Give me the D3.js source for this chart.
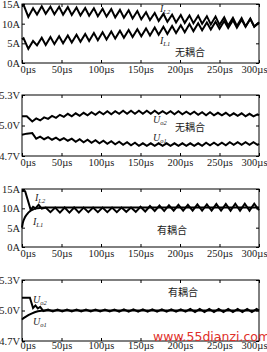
<!DOCTYPE html>
<html><head><meta charset="utf-8">
<script src="https://cdn.jsdelivr.net/npm/d3@7"></script>
<style>
html,body{margin:0;padding:0;background:#fff;}
svg{display:block;}
text{font-family:"Liberation Serif","Times New Roman",serif;}
</style></head>
<body>
<script>
// ---------- data ----------
const xTicks = [0, 50, 100, 150, 200, 250, 300];
const xTickLabels = ["0µs","50µs","100µs","150µs","200µs","250µs","300µs"];
const currentTicks = [0, 5, 10, 15];
const currentTickLabels = ["0A","5A","10A","15A"];
const voltageTicks = [4.7, 5.0, 5.3];
const voltageTickLabels = ["4.7V","5.0V","5.3V"];

// Panel 1 (无耦合, currents)
const tCurUncoupled = [0,2,8,14,19,25,30,36,41,47,52,58,63,69,74,80,85,91,96,102,107,113,118,124,129,135,140,146,151,157,162,168,173,179,184,190,195,201,206,212,217,223,228,234,239,245,250,256,261,267,272,278,283,289,294,300];
const iL2Uncoupled = [14.6,14.8,11.7,13.9,12.3,14.4,12.5,14.3,12.4,14.3,12.3,14.2,12.2,14.1,12.1,14.0,12.0,13.9,11.9,13.8,11.8,13.7,11.6,13.5,11.5,13.4,11.3,13.2,11.1,12.9,10.9,12.7,10.7,12.5,10.5,12.3,10.3,12.2,10.2,12.1,10.1,12.0,10.0,11.9,9.8,11.8,9.7,11.6,9.5,11.5,9.4,11.4,9.3,11.3,9.2,10.4];
const iL1Uncoupled = [6.0,6.3,3.6,5.6,4.5,6.4,4.6,6.6,4.8,6.8,5.0,7.0,5.2,7.2,5.4,7.4,5.6,7.6,5.8,7.8,6.0,8.0,6.2,8.2,6.4,8.4,6.6,8.6,6.8,8.8,7.0,9.0,7.2,9.2,7.4,9.4,7.6,9.6,7.8,9.9,8.1,10.1,8.3,10.3,8.5,10.5,8.7,10.7,8.9,10.9,9.0,11.0,9.2,11.2,9.3,10.2];

// Panel 2 (无耦合, voltages)
const tVolUncoupled = [0,6,13,18,23,28,33,38,43,48,53,58,63,68,73,78,83,88,93,98,103,108,113,118,123,128,133,138,143,148,153,158,163,168,173,178,183,188,193,198,203,208,213,218,223,228,233,238,243,248,253,258,263,268,273,278,283,288,293,298,300];
const uO2Uncoupled = [5.09,5.09,5.04,5.07,5.05,5.08,5.065,5.095,5.075,5.105,5.085,5.115,5.09,5.12,5.095,5.125,5.10,5.13,5.105,5.135,5.11,5.14,5.11,5.14,5.115,5.145,5.115,5.145,5.115,5.145,5.115,5.145,5.115,5.145,5.115,5.14,5.115,5.14,5.11,5.14,5.11,5.135,5.11,5.135,5.105,5.13,5.10,5.13,5.10,5.125,5.10,5.125,5.095,5.12,5.095,5.12,5.09,5.115,5.09,5.11,5.10];
const uO1Uncoupled = [4.91,4.92,4.925,4.87,4.89,4.865,4.885,4.86,4.88,4.855,4.875,4.85,4.87,4.84,4.865,4.835,4.86,4.83,4.855,4.825,4.85,4.82,4.845,4.815,4.84,4.81,4.835,4.805,4.83,4.80,4.825,4.80,4.825,4.80,4.825,4.80,4.825,4.80,4.825,4.80,4.825,4.80,4.825,4.80,4.825,4.80,4.83,4.805,4.83,4.805,4.83,4.805,4.835,4.81,4.835,4.81,4.835,4.81,4.835,4.81,4.82];

// Panel 3 (有耦合, currents)
const tIL2Coupled = [0,4,11,14,17,21,25,30,36,42,48,54,60,66,72,78,84,90,96,102,108,114,120,126,132,138,144,150,156,162,168,174,180,186,192,198,204,210,216,222,228,234,240,246,252,258,264,270,276,282,288,294,300];
const iL2Coupled = [14.6,14.4,9.6,10.4,10.0,10.9,9.9,10.2,9.0,10.2,8.9,10.2,8.9,10.2,8.9,10.2,9.0,10.2,9.0,10.2,9.0,10.2,9.0,10.2,9.1,10.2,9.1,10.4,9.2,10.6,9.3,10.7,9.3,10.8,9.4,10.9,9.4,10.9,9.4,11.0,9.4,11.0,9.4,11.1,9.4,11.1,9.4,11.2,9.4,11.2,9.4,11.2,9.5];
const tIL1Coupled = [0,1,2,4,6,8,11,15,20,25,30,300];
const iL1Coupled = [5.0,6.2,6.9,7.8,8.4,8.9,9.4,9.8,10.05,10.15,10.2,10.2];

// Panel 4 (有耦合, voltages)
const tUO2Coupled = [0,10,14,17,20,23,27,33,39,45,51,57,63,69,75,81,87,93,99,105,111,117,123,129,135,141,147,153,159,165,171,177,183,189,195,201,207,213,219,225,231,237,243,249,255,261,267,273,279,285,291,297,300];
const uO2Coupled = [5.125,5.125,5.025,5.05,5.02,5.035,4.995,5.010,4.990,5.010,4.990,5.010,4.990,5.010,4.990,5.010,4.990,5.010,4.990,5.010,4.990,5.010,4.988,5.012,4.988,5.012,4.988,5.012,4.988,5.012,4.988,5.012,4.988,5.012,4.988,5.012,4.988,5.015,4.985,5.015,4.985,5.015,4.985,5.015,4.985,5.015,4.985,5.015,4.985,5.015,4.985,5.015,5.0];
const tUO1Coupled = [0,2,5,8,12,16,20,25,30,300];
const uO1Coupled = [4.91,4.925,4.94,4.955,4.97,4.983,4.992,4.998,5.0,5.0];

// ---------- drawing ----------
const W = 267, H = 352;
const svg = d3.select("body").append("svg").attr("width", W).attr("height", H);

const x0 = 22, x1 = 259;
const panels = [
  {top:4, bottom:63, domain:[0,15], ticks:currentTicks, labels:currentTickLabels, labPad:3,
   series:[[tCurUncoupled,iL2Uncoupled],[tCurUncoupled,iL1Uncoupled]]},
  {top:95, bottom:156, domain:[4.7,5.3], ticks:voltageTicks, labels:voltageTickLabels, labPad:3,
   series:[[tVolUncoupled,uO2Uncoupled],[tVolUncoupled,uO1Uncoupled]]},
  {top:189, bottom:247, domain:[0,15], ticks:currentTicks, labels:currentTickLabels, labPad:3,
   series:[[tIL2Coupled,iL2Coupled],[tIL1Coupled,iL1Coupled]]},
  {top:280, bottom:341, domain:[4.7,5.3], ticks:voltageTicks, labels:voltageTickLabels, labPad:1,
   series:[[tUO2Coupled,uO2Coupled],[tUO1Coupled,uO1Coupled]]}
];

panels.forEach(p => {
  const x = d3.scaleLinear().domain([0,300]).range([x0,x1]);
  const y = d3.scaleLinear().domain(p.domain).range([p.bottom,p.top]);
  const g = svg.append("g");
  const fmtY = (d,i) => p.labels[i];
  const fmtX = (d,i) => xTickLabels[i];

  const ax = [
    g.append("g").attr("transform",`translate(${x0},0)`).call(d3.axisLeft(y).tickValues(p.ticks).tickFormat(fmtY).tickSize(-3).tickPadding(2)),
    g.append("g").attr("transform",`translate(${x1},0)`).call(d3.axisRight(y).tickValues(p.ticks).tickFormat("").tickSize(-3)),
    g.append("g").attr("class","xb").attr("transform",`translate(0,${p.bottom})`).call(d3.axisBottom(x).tickValues(xTicks).tickFormat(fmtX).tickSize(-3).tickPadding(p.labPad)),
    g.append("g").attr("transform",`translate(0,${p.top})`).call(d3.axisTop(x).tickValues(xTicks).tickFormat("").tickSize(-3))
  ];
  ax.forEach(a => {
    a.select(".domain").remove();
    a.attr("font-family",null);
    a.selectAll("line").attr("stroke","#000").attr("stroke-width",1);
    a.selectAll("text").attr("fill","#1a1a1a").style("font-family","'Liberation Serif',serif").style("font-size","10.5px");
  });
  // first label starts at the axis, last one ends at the page edge, as in the picture
  const xl = g.select(".xb").selectAll("text");
  xl.filter((d,i)=>i===0).attr("text-anchor","start").attr("x",-2);
  xl.filter((d,i)=>i===xTicks.length-1).attr("text-anchor","end").attr("x",8);

  g.append("rect").attr("x",x0).attr("y",p.top).attr("width",x1-x0).attr("height",p.bottom-p.top)
    .attr("fill","none").attr("stroke","#000").attr("stroke-width",1);

  const line = d3.line().x(d=>x(d[0])).y(d=>y(d[1]));
  p.series.forEach(([ts,vs]) => {
    const pts = ts.map((t,i)=>[t,vs[i]]);
    g.append("path").datum(pts).attr("d",line).attr("fill","none")
      .attr("stroke","#000").attr("stroke-width",2).attr("stroke-linejoin","miter");
  });
});

// annotations
function sym(xp, yp, main, sub) {
  const t = svg.append("text").attr("x",xp).attr("y",yp).attr("fill","#222")
    .style("font-family","'Liberation Serif',serif").style("font-style","italic").style("font-size","10px");
  t.append("tspan").text(main);
  t.append("tspan").attr("dy",2).style("font-size","6.5px").text(sub);
}
function cn(xp, yp, s) {
  svg.append("text").attr("x",xp).attr("y",yp).attr("fill","#222")
    .style("font-family","'Noto Sans CJK SC',sans-serif").style("font-size","10px").text(s);
}
sym(160,12,"I","L2"); sym(160,44,"I","L1"); cn(175,56,"无耦合");
sym(153,123,"U","o2"); sym(153,141,"U","o1"); cn(175,131,"无耦合");
sym(35,201,"I","L2"); sym(33,225,"I","L1"); cn(157,234,"有耦合");
sym(33,303,"U","o2"); sym(33,325,"U","o1"); cn(168,296,"有耦合");

// watermark
svg.append("text").attr("x",153).attr("y",341).attr("fill","#e0302a")
  .style("font-family","'DejaVu Sans',sans-serif").style("font-size","12.5px").text("www.55dianzi.com");
</script>
</body></html>
